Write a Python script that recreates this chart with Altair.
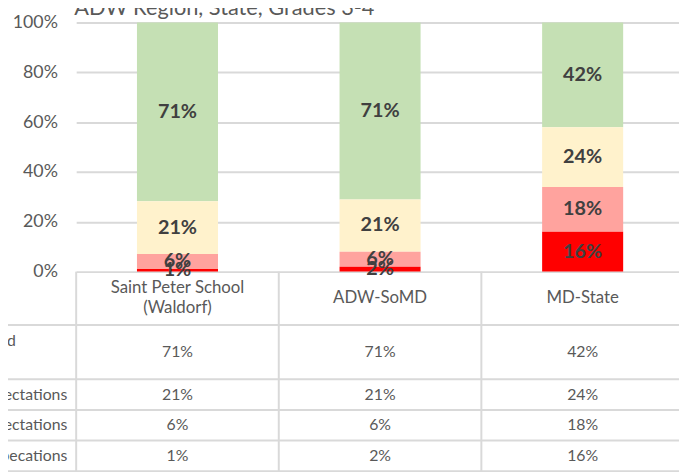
import altair as alt
import pandas as pd

# ---- data ----
schools = ["Saint Peter School (Waldorf)", "ADW-SoMD", "MD-State"]
levels = ["Met or Exceeded", "Approached Expectations",
          "Partially Met Expectations", "Did Not Yet Meet Expecations"]
exceeded = [71, 71, 42]
approached = [21, 21, 24]
partial = [6, 6, 18]
not_met = [1, 2, 16]
title_text = "ADW Region, State, Grades 3-4"

# ---- styles / layout ----
level_colors = ["#C5E0B4", "#FFF2CC", "#FFA39E", "#FF0000"]
row_heights = [54, 55, 31, 31, 31]  # header row + 4 data rows (px)
FONT = "Lato"
GRID = "#D9D9D9"
TXT = "#595959"

series = [exceeded, approached, partial, not_met]
records = []
for li, (lev, vals) in enumerate(zip(levels, series)):
    for s, v in zip(schools, vals):
        records.append({"school": s, "level": lev, "value": v,
                        "order": len(levels) - 1 - li, "label": f"{v}%"})
df = pd.DataFrame(records)

# table rows
bounds = [0]
for h in row_heights:
    bounds.append(bounds[-1] + h)
total_h = bounds[-1]
header = pd.DataFrame({
    "school": schools,
    "mid": [(bounds[0] + bounds[1]) / 2] * len(schools),
    "text": [s.replace(" (", "\n(") for s in schools],
})
header["multi"] = header["text"].str.contains("\n")
trows = []
for li, (lev, vals) in enumerate(zip(levels, series)):
    for s, v in zip(schools, vals):
        trows.append({"school": s, "mid": (bounds[li + 1] + bounds[li + 2]) / 2,
                      "text": f"{v}%"})
tdf = pd.DataFrame(trows)

label_rows = pd.DataFrame({
    "label": levels,
    "top": bounds[1:5],
    "mid": [(bounds[i] + bounds[i + 1]) / 2 for i in range(1, 5)],
})
hlines = pd.DataFrame({"y": bounds[1:]})
vlines = pd.DataFrame({"school": schools, "top": [0] * 3, "bottom": [total_h] * 3})

W, H = 610, 252
xscale = alt.Scale(domain=schools, range=[0, 615], paddingInner=0, paddingOuter=0)
tscale = alt.Scale(domain=[0, total_h], range=[H, H + total_h], zero=False, nice=False)
X = alt.X("school:N", scale=xscale, axis=None, sort=schools)

stack = dict(stack="value", groupby=["school"],
             sort=[alt.SortField("order", "ascending")], as_=["y0", "y1"],
             offset="normalize")

yaxis = alt.Axis(values=[0, 0.2, 0.4, 0.6, 0.8, 1.0], format=".0%",
                 grid=True, gridColor=GRID, gridWidth=2, domain=False,
                 ticks=False, labelFont=FONT, labelFontSize=18,
                 labelColor=TXT, labelPadding=19, title=None)
yscale = alt.Scale(domain=[0, 1], nice=False)

bars = alt.Chart(df).transform_stack(**stack).mark_bar(size=82).encode(
    x=X,
    y=alt.Y("y0:Q", scale=yscale, axis=yaxis),
    y2="y1:Q",
    color=alt.Color("level:N", scale=alt.Scale(domain=levels, range=level_colors),
                    legend=None),
)

seg_labels = alt.Chart(df).transform_stack(**stack).transform_calculate(
    mid="(datum.y0 + datum.y1) / 2"
).mark_text(font=FONT, fontSize=20, fontWeight="bold", color="#404040",
            baseline="middle").encode(
    x=X,
    y=alt.Y("mid:Q", scale=yscale, axis=yaxis),
    text="label:N",
)

top = alt.layer(bars, seg_labels)

vrules = alt.Chart(vlines).mark_rule(color=GRID, strokeWidth=2).encode(
    x=alt.X("school:N", scale=xscale, axis=None, sort=schools, bandPosition=0),
    y=alt.Y("top:Q", scale=tscale, axis=None),
    y2="bottom:Q",
)
hrules = alt.Chart(hlines).mark_rule(color=GRID, strokeWidth=2).encode(
    x=alt.value(-80), x2=alt.value(615),
    y=alt.Y("y:Q", scale=tscale, axis=None),
)
head_single = alt.Chart(header[~header["multi"]]).mark_text(
    font=FONT, fontSize=17, color=TXT, baseline="middle"
).encode(x=X, y=alt.Y("mid:Q", scale=tscale, axis=None), text="text:N")
head_multi = alt.Chart(header[header["multi"]]).mark_text(
    font=FONT, fontSize=17, color=TXT, baseline="middle", lineBreak="\n",
    lineHeight=20, dy=-10
).encode(x=X, y=alt.Y("mid:Q", scale=tscale, axis=None), text="text:N")
cells = alt.Chart(tdf).mark_text(font=FONT, fontSize=16, color=TXT,
                                 baseline="middle").encode(
    x=X,
    y=alt.Y("mid:Q", scale=tscale, axis=None),
    text="text:N",
)
first_label = alt.Chart(label_rows.iloc[[0]]).mark_text(
    font=FONT, fontSize=16, color=TXT, align="right", baseline="top", dy=8
).encode(
    x=alt.value(-61),
    y=alt.Y("top:Q", scale=tscale, axis=None),
    text="label:N",
)
other_labels = alt.Chart(label_rows.iloc[1:]).mark_text(
    font=FONT, fontSize=16, color=TXT, align="right", baseline="middle"
).encode(
    x=alt.value(-9),
    y=alt.Y("mid:Q", scale=tscale, axis=None),
    text="label:N",
)
title_mark = alt.Chart(pd.DataFrame({"t": [title_text]})).mark_text(
    font=FONT, fontSize=22, color=TXT, align="left", baseline="alphabetic"
).encode(x=alt.value(-2), y=alt.value(-8), text="t:N")

table = alt.layer(vrules, hrules, head_single, head_multi, cells,
                  first_label, other_labels, title_mark)

chart = alt.layer(top, table).resolve_scale(y="independent").properties(
    width=W, height=H,
    padding={"left": 69, "top": 12, "right": 0, "bottom": 200},
    autosize=alt.AutoSizeParams(type="none"),
).configure_view(stroke=None)

chart.save("out.html", embed_options={"renderer": "svg", "actions": False})
